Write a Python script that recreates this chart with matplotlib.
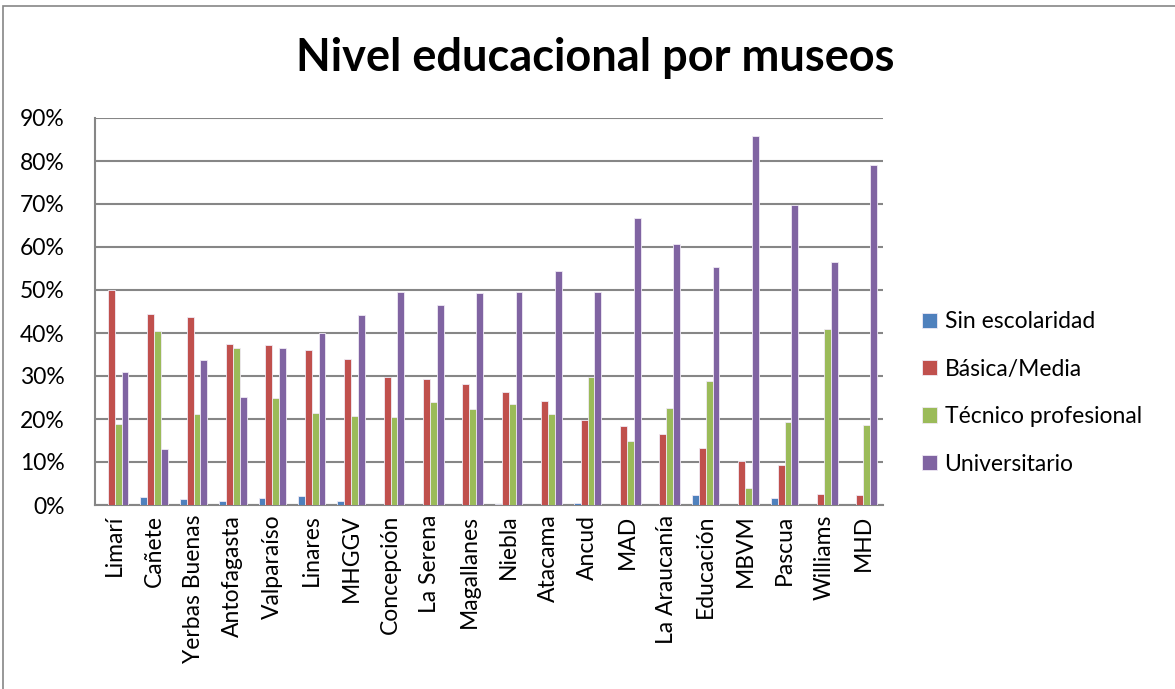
import matplotlib
matplotlib.use("Agg")
import matplotlib.pyplot as plt
import numpy as np
from matplotlib.patches import Rectangle
from matplotlib.ticker import PercentFormatter

plt.rcParams["font.family"] = ["Lato", "DejaVu Sans"]

museos = ["Limarí", "Cañete", "Yerbas Buenas", "Antofagasta", "Valparaíso", "Linares",
          "MHGGV", "Concepción", "La Serena", "Magallanes", "Niebla", "Atacama", "Ancud",
          "MAD", "La Araucanía", "Educación", "MBVM", "Pascua", "Williams", "MHD"]

sin_escolaridad = [0.0, 1.9, 1.4, 0.9, 1.6, 2.0, 0.9, 0.0, 0.0, 0.0, 0.3, 0.0, 0.5,
                   0.0, 0.0, 2.3, 0.0, 1.6, 0.0, 0.0]
basica_media = [50.0, 44.4, 43.7, 37.4, 37.1, 36.1, 34.0, 29.8, 29.2, 28.1, 26.3, 24.2,
                19.7, 18.4, 16.6, 13.2, 10.2, 9.2, 2.5, 2.3]
tecnico = [18.9, 40.4, 21.1, 36.4, 24.8, 21.5, 20.7, 20.4, 23.9, 22.4, 23.5, 21.1, 29.8,
           14.8, 22.5, 28.9, 4.0, 19.3, 40.9, 18.5]
universitario = [31.0, 13.1, 33.8, 25.2, 36.4, 40.1, 44.3, 49.6, 46.6, 49.3, 49.5, 54.5,
                 49.6, 66.7, 60.8, 55.3, 85.7, 69.7, 56.4, 79.0]

series = ["Sin escolaridad", "Básica/Media", "Técnico profesional", "Universitario"]
colores = ["#4F81BD", "#C0504D", "#9BBB59", "#8064A2"]
valores = [sin_escolaridad, basica_media, tecnico, universitario]

fig = plt.figure(figsize=(11.75, 6.89), dpi=100)
ax = fig.add_axes([95 / 1175, 1 - 505 / 689, (883 - 95) / 1175, (505 - 118) / 689])

x = np.arange(len(museos))
w = 0.175
for i, (nombre, vals, c) in enumerate(zip(series, valores, colores)):
    ax.bar(x + (i - 1.5) * w, np.array(vals) / 100, w, color=c, label=nombre,
           edgecolor="#f0eaf5", linewidth=0.6, zorder=3)

ax.set_xlim(-0.5, len(museos) - 0.5)
ax.set_ylim(0, 0.9)
ax.set_yticks(np.arange(0, 0.91, 0.1))
ax.yaxis.set_major_formatter(PercentFormatter(1.0, decimals=0))
ax.grid(axis="y", color="#868686", linewidth=1.5, zorder=0)
ax.set_xticks(x)
ax.set_xticklabels(museos, rotation=90, fontsize=16.5)
ax.tick_params(axis="y", labelsize=16.5, length=0, pad=22)
ax.tick_params(axis="x", length=0, pad=7)
for s in ["top", "right"]:
    ax.spines[s].set_visible(False)
ax.spines["left"].set_color("#868686")
ax.spines["left"].set_linewidth(1.5)
ax.spines["bottom"].set_color("#868686")
ax.spines["bottom"].set_linewidth(1.5)

fig.text(595 / 1175, 1 - 58 / 689, "Nivel educacional por museos", ha="center", va="center",
         fontsize=32.5, fontweight="bold")

fig.legend(loc="center left", bbox_to_anchor=(901 / 1175, 1 - 393 / 689), frameon=False,
           fontsize=16.5, handlelength=0.65, handleheight=0.65, handletextpad=0.35,
           labelspacing=1.15)

fig.patches.append(Rectangle((3 / 1175, -0.01), 1.0, 1 - 6 / 689 + 0.01,
                             transform=fig.transFigure, fill=False,
                             edgecolor="#868686", linewidth=1.2))

fig.savefig("out.png", dpi=100)
